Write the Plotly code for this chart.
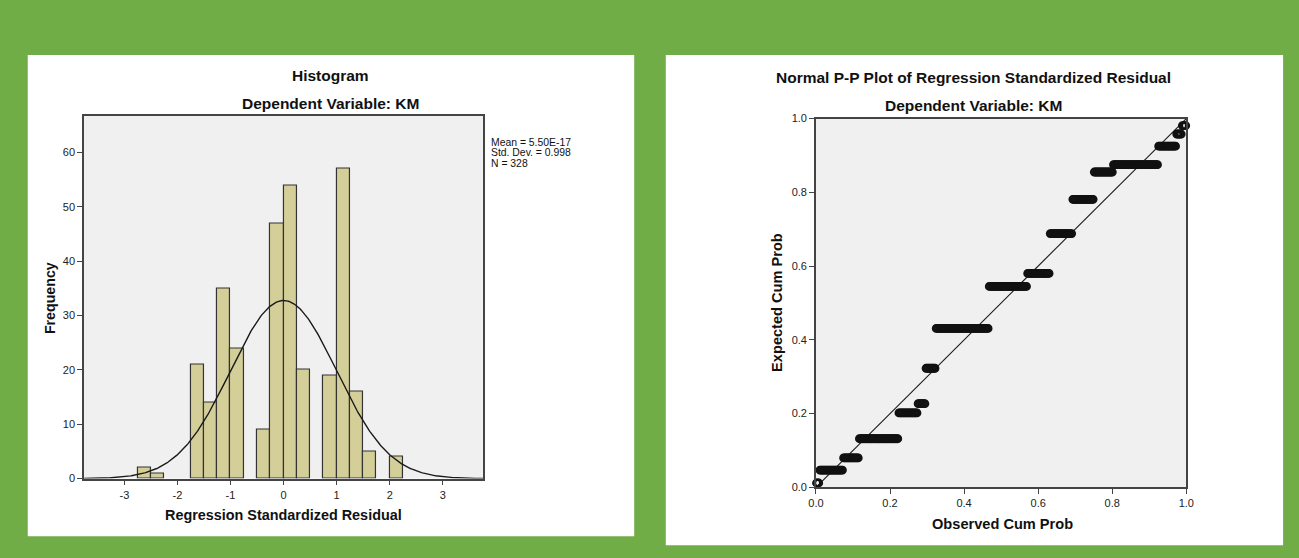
import plotly.graph_objects as go
import numpy as np

# ---------------- data ----------------
# Histogram of regression standardized residuals (bin start, frequency)
bin_starts = [-2.75, -2.5, -1.75, -1.5, -1.25, -1.0, -0.5, -0.25, 0.0, 0.25, 0.75, 1.0, 1.25, 1.5, 2.0]
frequencies = [2, 1, 21, 14, 35, 24, 9, 47, 54, 20, 19, 57, 16, 5, 4]
bin_width = 0.25
hist_x_ticks = [-3, -2, -1, 0, 1, 2, 3]
hist_y_ticks = [0, 10, 20, 30, 40, 50, 60]

stat_mean = 5.50e-17
stat_sd = 0.998
stat_n = 328
stat_labels = ["Mean = 5.50E-17", "Std. Dev. = 0.998", "N = 328"]

# Normal P-P plot: groups of tied residuals (count) and their expected cumulative probability
tie_counts = [3, 21, 14, 35, 17, 7, 9, 47, 34, 20, 20, 19, 17, 40, 16, 5, 4]
expected_cum_prob = [0.012, 0.047, 0.080, 0.132, 0.202, 0.227, 0.323, 0.431, 0.545, 0.580,
                     0.688, 0.781, 0.855, 0.875, 0.925, 0.958, 0.981]
pp_ticks = [0.0, 0.2, 0.4, 0.6, 0.8, 1.0]

# ---------------- derived ----------------
bar_centers = [b + bin_width / 2 for b in bin_starts]

curve_x = np.linspace(-3.8, 3.8, 400)
curve_y = stat_n * bin_width / (stat_sd * np.sqrt(2 * np.pi)) * np.exp(-0.5 * ((curve_x - stat_mean) / stat_sd) ** 2)

obs_x, exp_y = [], []
rank = 0
for c, e in zip(tie_counts, expected_cum_prob):
    for _ in range(c):
        rank += 1
        obs_x.append((rank - 0.5) / stat_n)
        exp_y.append(e)

# ---------------- layout helpers ----------------
W, H = 1299, 558
def px(x):
    return x / W
def py(y):
    return 1 - y / H

FONT = "Liberation Sans, Arial, sans-serif"
GREEN = "#70AD47"
AXC = "#444444"
TXT = "#111111"

fig = go.Figure()

fig.add_trace(go.Bar(
    x=bar_centers, y=frequencies, width=bin_width,
    marker=dict(color="#D4CE98", line=dict(color="#333333", width=1.2)),
    xaxis="x", yaxis="y", showlegend=False, hoverinfo="x+y"))

fig.add_trace(go.Scatter(
    x=curve_x, y=curve_y, mode="lines",
    line=dict(color="#1a1a1a", width=1.4),
    xaxis="x", yaxis="y", showlegend=False, hoverinfo="skip"))

fig.add_trace(go.Scatter(
    x=[0, 1], y=[0, 1], mode="lines",
    line=dict(color="#1a1a1a", width=1.1),
    xaxis="x2", yaxis="y2", showlegend=False, hoverinfo="skip", cliponaxis=False))

fig.add_trace(go.Scatter(
    x=obs_x, y=exp_y, mode="markers",
    marker=dict(symbol="circle-open", size=7, color="#111111", line=dict(width=1.8, color="#111111")),
    xaxis="x2", yaxis="y2", showlegend=False, cliponaxis=False))

axis_common = dict(
    showline=True, mirror=True, linecolor=AXC, linewidth=1.5,
    ticks="outside", ticklen=5, tickwidth=1, tickcolor=AXC,
    showgrid=False, zeroline=False,
    tickfont=dict(family=FONT, size=11, color="#222222"),
)

fig.update_layout(
    width=W, height=H,
    margin=dict(l=0, r=0, t=0, b=0),
    paper_bgcolor=GREEN,
    plot_bgcolor="rgba(0,0,0,0)",
    xaxis=dict(domain=[px(77), px(481)], range=[-3.76, 3.76], tickvals=hist_x_ticks,
               ticktext=[str(v) for v in hist_x_ticks], anchor="y", **axis_common),
    yaxis=dict(domain=[py(483), py(112)], range=[0, 66.8], tickvals=hist_y_ticks,
               ticktext=[str(v) for v in hist_y_ticks], anchor="x", **axis_common),
    xaxis2=dict(domain=[px(818), px(1193)], range=[0, 1], tickvals=pp_ticks,
                ticktext=[f"{v:.1f}" for v in pp_ticks], anchor="y2", **axis_common),
    yaxis2=dict(domain=[py(492), py(115)], range=[0, 1], tickvals=pp_ticks,
                ticktext=[f"{v:.1f}" for v in pp_ticks], anchor="x2", **axis_common),
    bargap=0,
)

shapes = [
    dict(type="rect", xref="paper", yref="paper", x0=px(20), x1=px(634), y0=py(542), y1=py(50),
         fillcolor="white", line=dict(width=0), layer="below"),
    dict(type="rect", xref="paper", yref="paper", x0=px(666), x1=px(1291), y0=py(551), y1=py(50),
         fillcolor="white", line=dict(width=0), layer="below"),
    dict(type="rect", xref="x domain", yref="y domain", x0=0, x1=1, y0=0, y1=1,
         fillcolor="#F0F0F0", line=dict(width=0), layer="below"),
    dict(type="rect", xref="x2 domain", yref="y2 domain", x0=0, x1=1, y0=0, y1=1,
         fillcolor="#F0F0F0", line=dict(width=0), layer="below"),
]
fig.update_layout(shapes=shapes)

def ann(text, x, y, size, bold=True, angle=0, xanchor="center"):
    t = f"<b>{text}</b>" if bold else text
    return dict(text=t, x=px(x), y=py(y), xref="paper", yref="paper", showarrow=False,
                xanchor=xanchor, yanchor="middle", textangle=angle,
                font=dict(family=FONT, size=size, color=TXT))

annotations = [
    ann("Histogram", 327, 71, 15.5),
    ann("Dependent Variable: KM", 327, 100, 15.5),
    ann("Regression Standardized Residual", 279, 520, 14.4),
    ann("Frequency", 42, 298, 14.2, angle=-90),
    ann("Normal P-P Plot of Regression Standardized Residual", 978, 73, 15.5),
    ann("Dependent Variable: KM", 978, 102, 15.5),
    ann("Observed Cum Prob", 1007, 529, 14.6),
    ann("Expected Cum Prob", 779, 303, 14.6, angle=-90),
]
for i, s in enumerate(stat_labels):
    annotations.append(ann(s, 487, 139 + 11 * i, 10.4, bold=False, xanchor="left"))
fig.update_layout(annotations=annotations)

fig.write_html(
    "out.html",
    config={"displayModeBar": False},
    post_script="document.body.style.margin='0';document.body.style.padding='0';"
                "document.body.style.overflow='hidden';",
)
